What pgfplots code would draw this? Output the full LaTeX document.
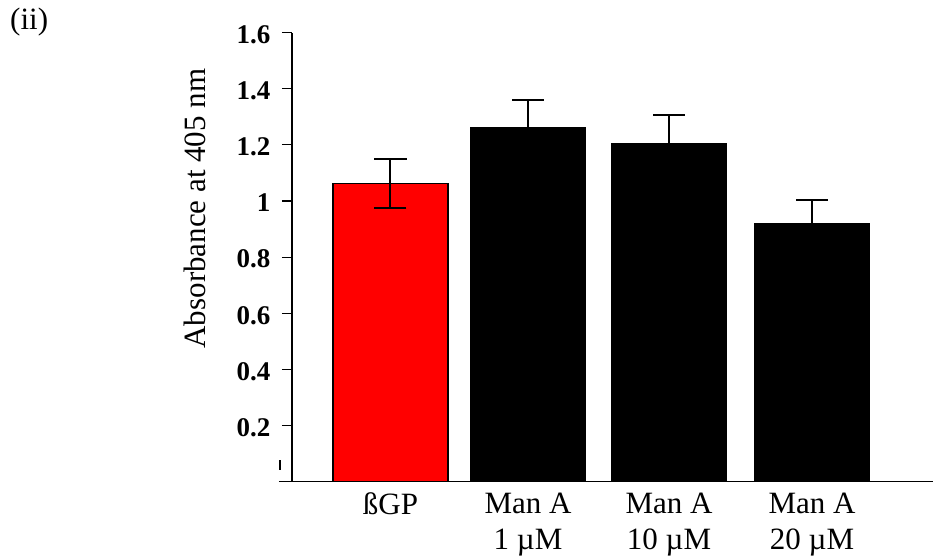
\documentclass[border=0pt]{standalone}
\usepackage{fontspec}
\setmainfont{Liberation Serif}
\usepackage{pgfplots}
\pgfplotsset{compat=1.18}
\begin{document}
\begin{tikzpicture}
\begin{axis}[
  scale only axis,
  width=641bp, height=449.2bp,
  xmin=292, xmax=933, ymin=0, ymax=1.6,
  clip=false,
  axis x line=bottom, axis y line=left,
  axis line style={-, line width=1.2bp, black},
  tick align=outside,
  major tick length=10bp,
  ytick={0.2,0.4,0.6,0.8,1,1.2,1.4,1.6},
  yticklabels={0.2,0.4,0.6,0.8,1,1.2,1.4,1.6},
  ytick style={line width=1.2bp, black},
  yticklabel style={font=\fontsize{27bp}{32bp}\selectfont\bfseries, anchor=east, xshift=-8bp, yshift=-2bp},
  xtick={390.5,528,669,812},
  xticklabels={ßGP, Man A\\1 µM, Man A\\10 µM, Man A\\20 µM},
  xtick style={draw=none},
  xticklabel style={font=\fontsize{31bp}{36bp}\selectfont, align=center, anchor=north, inner sep=0.5bp, yshift=-0.5bp},
]
\addplot[ybar, bar shift=0pt, bar width=115, fill=red, draw=black, line width=1.5bp,
  error bars/.cd, y dir=both, y explicit,
  error bar style={line width=2bp, black},
  error mark options={rotate=90, mark size=16bp, line width=2bp, black}]
  coordinates {(390.5,1.062) +- (0,0.087)};
\addplot[ybar, bar shift=0pt, bar width=115, fill=black, draw=black, line width=1.5bp,
  error bars/.cd, y dir=both, y explicit,
  error bar style={line width=2bp, black},
  error mark options={rotate=90, mark size=16bp, line width=2bp, black}]
  coordinates {(528,1.260) +- (0,0.100) (669,1.205) +- (0,0.100) (812,0.920) +- (0,0.085)};
\draw[line width=1.2bp, black] (axis cs:279,0) -- (axis cs:292,0);
\draw[line width=1.2bp, black] (axis cs:280,0.042) -- (axis cs:280,0.077);
\node[font=\fontsize{31bp}{37bp}\selectfont, rotate=90, anchor=base] at (axis cs:206,0.973) {Absorbance at 405 nm};
\node[font=\fontsize{31bp}{37bp}\selectfont, anchor=base west, inner sep=0pt] at (axis cs:10,1.609) {(ii)};
\coordinate (tl) at (axis cs:0,1.7158);
\coordinate (br) at (axis cs:934,-0.2611);
\end{axis}
\pgfresetboundingbox
\path[use as bounding box] (tl) rectangle (br);
\end{tikzpicture}
\end{document}
